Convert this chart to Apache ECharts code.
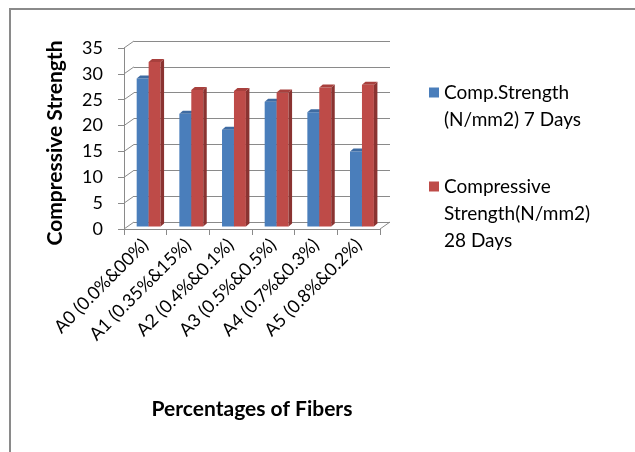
<!DOCTYPE html>
<html>
<head>
<meta charset="utf-8">
<title>Compressive Strength vs Percentages of Fibers</title>
<script src="https://cdn.jsdelivr.net/npm/echarts@6/dist/echarts.min.js"></script>
<style>
  html, body { margin: 0; padding: 0; background: #fff; }
  #chart { width: 635px; height: 452px; }
</style>
</head>
<body>
<div id="chart"></div>
<script>
// Mix designs and their compressive strengths (N/mm2)
const categories = [
  'A0 (0.0%&00%)',
  'A1 (0.35%&15%)',
  'A2 (0.4%&0.1%)',
  'A3 (0.5%&0.5%)',
  'A4 (0.7%&0.3%)',
  'A5 (0.8%&0.2%)'
];
const strength7Days = [28.6, 21.8, 18.7, 24.1, 22.1, 14.5];
const strength28Days = [31.8, 26.4, 26.2, 25.9, 26.9, 27.4];
const yTicks = [0, 5, 10, 15, 20, 25, 30, 35];

const name7 = 'Comp.Strength (N/mm2) 7 Days';
const name28 = 'Compressive Strength(N/mm2) 28 Days';
// Legend text, padded with leading blank lines so the swatch sits on the first line
const legendText = {};
legendText[name7] = '\nComp.Strength\n(N/mm2) 7 Days';
legendText[name28] = '\n\nCompressive\nStrength(N/mm2)\n28 Days';

const GRID_COLOR = '#8a8a8a';
// depth offset of the back wall relative to the front plane
const WALL_DX = 10, WALL_DY = -7;
// bars sit a little way into the depth, and have their own small depth
const BAR_DX = 3.3, BAR_DY = -2.5;
const BAR_DEPTH_X = 3.5, BAR_DEPTH_Y = -3;

function barRenderer(side, colors) {
  return function (params, api) {
    const i = api.value(0);
    const v = api.value(1);
    const top = api.coord([i, v]);
    const base = api.coord([i, 0]);
    const band = api.size([1, 0])[0];
    const w = band * 0.28;
    const x0 = top[0] + BAR_DX + (side === 0 ? -w : 0);
    const ty = top[1] + BAR_DY;
    const by = base[1] + BAR_DY;
    return {
      type: 'group',
      children: [
        { type: 'rect', shape: { x: x0, y: ty, width: w, height: by - ty }, style: { fill: colors.front } },
        { type: 'polygon', shape: { points: [[x0 + w, ty], [x0 + w + BAR_DEPTH_X, ty + BAR_DEPTH_Y], [x0 + w + BAR_DEPTH_X, by + BAR_DEPTH_Y], [x0 + w, by]] }, style: { fill: colors.side } },
        { type: 'polygon', shape: { points: [[x0, ty], [x0 + w, ty], [x0 + w + BAR_DEPTH_X, ty + BAR_DEPTH_Y], [x0 + BAR_DEPTH_X, ty + BAR_DEPTH_Y]] }, style: { fill: colors.top } }
      ]
    };
  };
}

// Diagonal lines on the side wall at each tick, plus the floor's right edge
function wallRenderer(params, api) {
  const v = api.value(0);
  const p = api.coord([0, v]);
  const band = api.size([1, 0])[0];
  const x = p[0] - band / 2;
  const children = [
    { type: 'line', shape: { x1: x, y1: p[1], x2: x + WALL_DX, y2: p[1] + WALL_DY }, style: { stroke: GRID_COLOR, lineWidth: 1 } }
  ];
  if (v === 0) {
    const r = api.coord([categories.length - 1, 0]);
    const xr = r[0] + band / 2;
    children.push({ type: 'line', shape: { x1: xr, y1: r[1], x2: xr + WALL_DX, y2: r[1] + WALL_DY }, style: { stroke: GRID_COLOR, lineWidth: 1 } });
  }
  return { type: 'group', children: children };
}

const chart = echarts.init(document.getElementById('chart'), null, { renderer: 'canvas' });

chart.setOption({
  animation: false,
  backgroundColor: '#ffffff',
  textStyle: { fontFamily: 'Lato', color: '#000' },
  graphic: [{
    type: 'polyline',
    shape: { points: [[10, 452], [10, 9], [640, 9]] },
    style: { stroke: '#8a8a8a', lineWidth: 2, fill: null },
    silent: true
  }],
  legend: {
    orient: 'vertical',
    left: 429,
    top: 52,
    padding: 0,
    itemWidth: 10,
    itemHeight: 10,
    itemGap: -14,
    icon: 'rect',
    selectedMode: false,
    data: [name7, name28],
    formatter: function (name) { return legendText[name]; },
    textStyle: { fontFamily: 'Lato', fontSize: 19, lineHeight: 27, color: '#000' }
  },
  grid: [
    // front plane: axes, ticks and labels
    { left: 124, right: 255, top: 48, bottom: 223, containLabel: false },
    // back wall: horizontal gridlines
    { left: 124 + WALL_DX, right: 255 - WALL_DX, top: 48 + WALL_DY, bottom: 223 - WALL_DY, containLabel: false }
  ],
  xAxis: [{
    gridIndex: 0,
    type: 'category',
    data: categories,
    boundaryGap: true,
    name: 'Percentages of Fibers',
    nameLocation: 'middle',
    nameGap: 170,
    nameTextStyle: { fontFamily: 'Lato', fontSize: 21, fontWeight: 'bold', color: '#000' },
    axisLine: { show: true, lineStyle: { color: GRID_COLOR, width: 1 } },
    axisTick: { show: true, alignWithLabel: false, length: 6, lineStyle: { color: GRID_COLOR } },
    axisLabel: { rotate: 45, margin: 13, fontSize: 18, color: '#000', interval: 0 },
    splitLine: { show: false }
  }, {
    gridIndex: 1,
    type: 'category',
    data: categories,
    show: false
  }],
  yAxis: [{
    gridIndex: 0,
    type: 'value',
    min: 0,
    max: 35,
    interval: 5,
    name: 'Compressive Strength',
    nameLocation: 'middle',
    nameGap: 58,
    nameRotate: 90,
    nameTextStyle: { fontFamily: 'Lato', fontSize: 21, fontWeight: 'bold', color: '#000', padding: [0, 9, 0, 0] },
    axisLine: { show: true, lineStyle: { color: GRID_COLOR, width: 1 } },
    axisTick: { show: true, length: 6, lineStyle: { color: GRID_COLOR } },
    axisLabel: { margin: 21, fontSize: 18, color: '#000', padding: [4, 0, 0, 0] },
    splitLine: { show: false }
  }, {
    gridIndex: 1,
    type: 'value',
    min: 0,
    max: 35,
    interval: 5,
    axisLine: { show: false },
    axisTick: { show: false },
    axisLabel: { show: false },
    splitLine: { show: true, lineStyle: { color: GRID_COLOR, width: 1 } }
  }],
  series: [{
    name: 'wall',
    type: 'custom',
    xAxisIndex: 0,
    yAxisIndex: 0,
    z: 1,
    silent: true,
    data: yTicks.map(function (t) { return [t]; }),
    encode: { y: 0 },
    renderItem: wallRenderer
  }, {
    name: name7,
    type: 'custom',
    xAxisIndex: 0,
    yAxisIndex: 0,
    z: 3,
    itemStyle: { color: '#4A7EBB' },
    data: strength7Days.map(function (v, i) { return [i, v]; }),
    encode: { x: 0, y: 1 },
    renderItem: barRenderer(0, { front: '#4A7EBB', side: '#345C8C', top: '#3E6BA2' })
  }, {
    name: name28,
    type: 'custom',
    xAxisIndex: 0,
    yAxisIndex: 0,
    z: 4,
    itemStyle: { color: '#BE4B48' },
    data: strength28Days.map(function (v, i) { return [i, v]; }),
    encode: { x: 0, y: 1 },
    renderItem: barRenderer(1, { front: '#BE4B48', side: '#8A3331', top: '#A8403D' })
  }]
});
</script>
</body>
</html>
